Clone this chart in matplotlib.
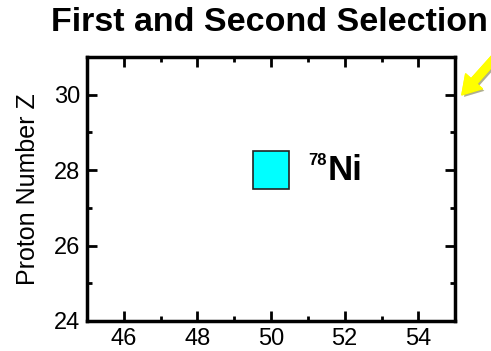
import matplotlib
matplotlib.use('Agg')
import matplotlib.pyplot as plt
import matplotlib.patheffects as pe
from matplotlib.patches import Rectangle
from matplotlib.ticker import MultipleLocator

plt.rcParams['font.family'] = ['Liberation Sans', 'DejaVu Sans']

# data
nucleus_n = [50]
nucleus_z = [28]
nucleus_label = ['78', 'Ni']
x_limits = (45, 55)
y_limits = (24, 31)
title = 'First and Second Selection'
ylabel = 'Proton Number Z'

fig = plt.figure(figsize=(4.91, 3.51), dpi=100)
ax = fig.add_axes([0.177, 0.0855, 0.750, 0.752])

for n, z in zip(nucleus_n, nucleus_z):
    ax.add_patch(Rectangle((n - 0.5, z - 0.5), 1, 1, facecolor='#00ffff',
                           edgecolor='#222222', linewidth=1.2))
    ax.text(n + 1.0, z + 0.25, nucleus_label[0], fontsize=12, fontweight='bold',
            ha='left', va='center')
    ax.text(n + 1.55, z, nucleus_label[1], fontsize=25, fontweight='bold',
            ha='left', va='center')

ax.set_xlim(*x_limits)
ax.set_ylim(*y_limits)
ax.xaxis.set_major_locator(MultipleLocator(2))
ax.xaxis.set_minor_locator(MultipleLocator(1))
ax.yaxis.set_major_locator(MultipleLocator(2))
ax.yaxis.set_minor_locator(MultipleLocator(1))
ax.tick_params(which='both', direction='in', top=True, right=True,
               width=2, labelsize=17)
ax.tick_params(which='major', length=7, pad=5)
ax.tick_params(which='minor', length=3.5)
ax.xaxis.set_ticks([46, 48, 50, 52, 54])
ax.yaxis.set_ticks([24, 26, 28, 30])
for s in ax.spines.values():
    s.set_linewidth(2.5)

ax.set_ylabel(ylabel, fontsize=18, labelpad=10)
fig.text(0.548, 0.935, title, fontsize=24.5, fontweight='bold',
         ha='center', va='center')

# yellow arrow poking in from the top right
fig.add_artist(plt.annotate('', xy=(0.937, 0.724), xytext=(1.04, 0.885),
                            xycoords='figure fraction',
                            textcoords='figure fraction',
                            arrowprops=dict(arrowstyle='simple,head_width=1.6,head_length=1.3,tail_width=0.55',
                                            color='#ffff00',
                                            path_effects=[pe.SimplePatchShadow(offset=(1.5, -1.5), alpha=0.25),
                                                          pe.Normal()])))

fig.savefig('out.png', dpi=100)
